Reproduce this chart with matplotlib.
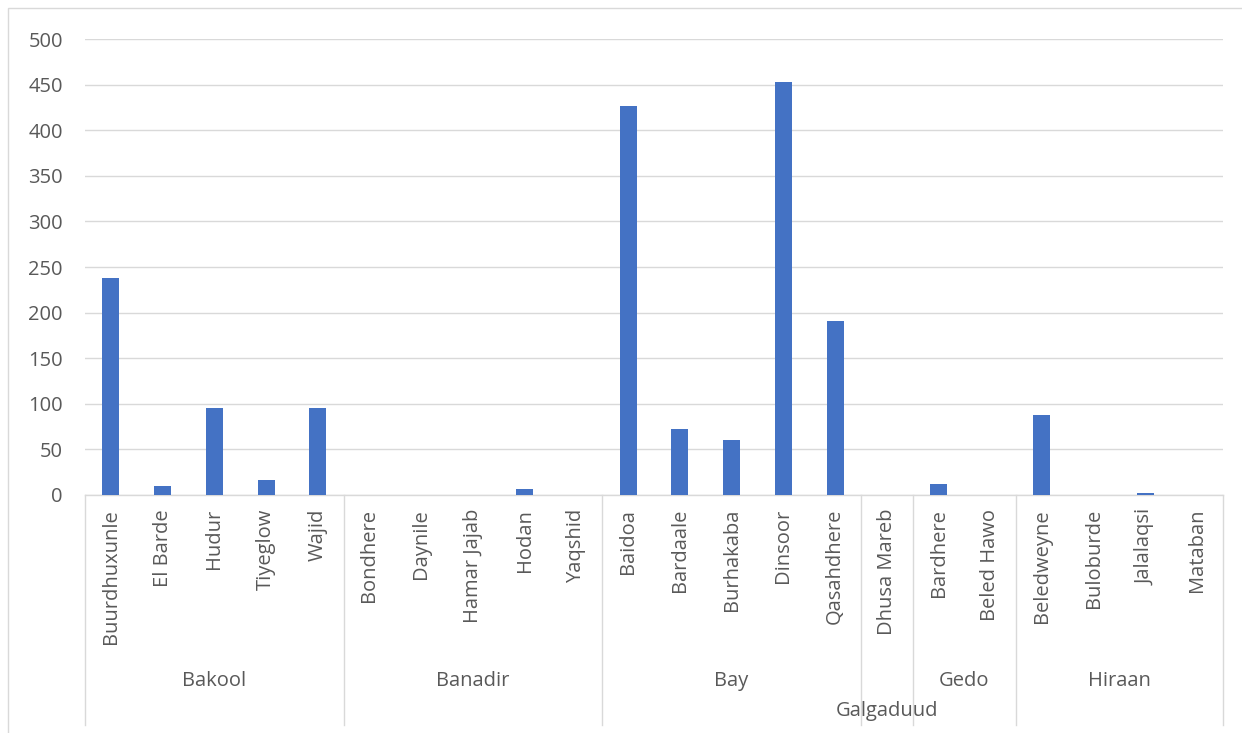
import matplotlib
matplotlib.use("Agg")
import matplotlib.pyplot as plt
from matplotlib.patches import Rectangle

plt.rcParams['font.family'] = ['Open Sans', 'DejaVu Sans']

districts = ["Buurdhuxunle", "El Barde", "Hudur", "Tiyeglow", "Wajid",
             "Bondhere", "Daynile", "Hamar Jajab", "Hodan", "Yaqshid",
             "Baidoa", "Bardaale", "Burhakaba", "Dinsoor", "Qasahdhere",
             "Dhusa Mareb",
             "Bardhere", "Beled Hawo",
             "Beledweyne", "Buloburde", "Jalalaqsi", "Mataban"]
values = [238, 10, 95, 16, 95,
          0.3, 0.3, 0.3, 7, 0.3,
          426, 72, 60, 453, 191,
          0.3,
          12, 0.3,
          88, 0.3, 2, 0.3]
regions = ["Bakool", "Banadir", "Bay", "Galgaduud", "Gedo", "Hiraan"]
region_sizes = [5, 5, 5, 1, 2, 4]
y_ticks = [0, 50, 100, 150, 200, 250, 300, 350, 400, 450, 500]

W, H = 1242, 733
FS = 14.5
fig = plt.figure(figsize=(W / 100, H / 100), dpi=100)
fig.patches.append(Rectangle((8 / W, -0.05), 1.1, 1 - 8 / H + 0.05,
                             transform=fig.transFigure, fill=False,
                             edgecolor="#d9d9d9", linewidth=1.0))

x0, x1 = 85, 1223
y0, y1 = 495, 39
ax = fig.add_axes([x0 / W, 1 - y0 / H, (x1 - x0) / W, (y0 - y1) / H])

xs = list(range(len(districts)))
ax.bar(xs, values, width=0.33, color="#4472C4", zorder=3)
ax.set_xlim(-0.5, len(districts) - 0.5)
ax.set_ylim(0, 500)
ax.set_yticks(y_ticks)
ax.set_yticklabels([str(v) for v in y_ticks])
ax.grid(axis="y", color="#d9d9d9", linewidth=1.0, zorder=0)
for s in ["top", "right", "left"]:
    ax.spines[s].set_visible(False)
ax.spines["bottom"].set_color("#d9d9d9")
ax.spines["bottom"].set_linewidth(1.0)
ax.tick_params(axis="y", length=0, pad=16, labelsize=FS, labelcolor="#595959")
ax.set_xticks(xs)
ax.set_xticklabels(districts, rotation=90, va="top", ha="center")
ax.tick_params(axis="x", length=0, pad=10, labelsize=FS, labelcolor="#595959")

# group separators and labels
axh = y0 - y1
bottom_frac = (y0 - 725) / axh
trans = ax.get_xaxis_transform()
pos = -0.5
bounds = [pos]
for n in region_sizes:
    pos += n
    bounds.append(pos)
for b in bounds:
    ax.plot([b, b], [0, bottom_frac], transform=trans, color="#d9d9d9",
            linewidth=1.0, clip_on=False)
for i, name in enumerate(regions):
    c = (bounds[i] + bounds[i + 1]) / 2
    ypix = 711 if name == "Galgaduud" else 681
    ax.text(c, (y0 - ypix) / axh, name, transform=trans, ha="center", va="center",
            fontsize=FS, color="#595959")

fig.savefig("out.png", dpi=100)
